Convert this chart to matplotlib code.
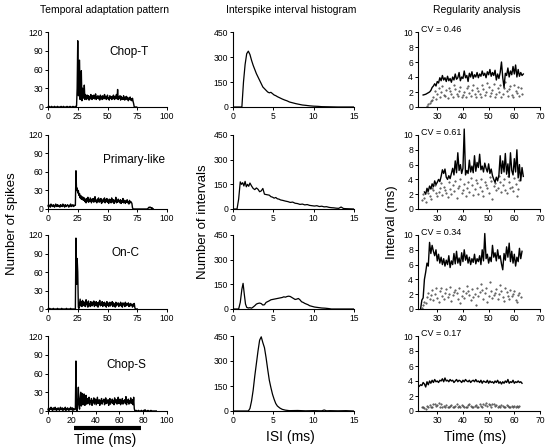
import matplotlib
matplotlib.use("Agg")
import matplotlib.pyplot as plt
import matplotlib.transforms as mtransforms
import numpy as np

plt.rcParams['font.family'] = ['Liberation Sans', 'DejaVu Sans']

W, H = 546, 447

unit_names = ['Chop-T', 'Primary-like', 'On-C', 'Chop-S']
cv_labels = ['CV = 0.46', 'CV = 0.61', 'CV = 0.34', 'CV = 0.17']

# Temporal adaptation pattern: spike counts in 0.5 ms bins, starting at 0 ms.
psth_bin = 0.5
psth_chop_t = [
    0, 0, 1, 0, 0, 0, 1, 0, 0, 0, 0, 1, 0, 0, 0, 0, 1, 0, 0, 0, 0, 0, 1, 0,
    0, 0, 1, 0, 0, 0, 0, 0, 1, 0, 0, 0, 0, 1, 0, 0, 0, 0, 1, 0, 0, 0, 1, 0,
    2, 30, 106, 18, 48, 75, 12, 40, 58, 10, 30, 22, 14, 35, 12, 20,
    16, 12, 19, 14, 18, 11, 17, 13, 20, 15, 12, 18, 14, 19, 13, 16, 21, 12, 17, 14,
    18, 13, 16, 11, 19, 14, 17, 12, 18, 15, 13, 20, 14, 17, 12, 16, 19, 13, 15, 11,
    18, 14, 16, 12, 17, 13, 19, 15, 12, 17, 14, 20, 13, 28, 12, 16, 14, 18, 11, 17,
    13, 15, 12, 18, 14, 11, 16, 13, 17, 12, 15, 10, 14, 12, 16, 11, 13, 10, 14, 9,
    5, 0, 0, 0, 0, 0]
psth_primary = [
    5, 7, 4, 6, 3, 8, 5, 6, 4, 7, 5, 3, 6, 8, 4, 5, 7, 4, 6, 5, 3, 7, 5, 6,
    4, 8, 5, 6, 3, 7, 5, 4, 6, 7, 5, 3, 6, 5, 8, 4, 6, 5, 7, 4, 5, 6,
    6, 62, 30, 34, 26, 30, 22, 25, 18, 22, 16, 20, 15, 19, 14,
    18, 12, 16, 10, 17, 13, 19, 11, 15, 12, 18, 14, 10, 16, 13, 17, 11, 15, 20, 12,
    14, 10, 16, 13, 18, 11, 15, 12, 17, 9, 14, 11, 16, 13, 18, 10, 15, 12, 17, 11,
    14, 9, 16, 12, 15, 10, 18, 13, 11, 15, 9, 14, 12, 19, 10, 13, 11, 16, 12, 14,
    10, 15, 9, 13, 11, 17, 10, 12, 14, 9, 13, 11, 15, 10, 12, 8, 14, 10, 12, 11, 9,
    2, 0, 0, 0, 0, 0, 0, 0, 0, 0, 0, 0, 0, 0, 0, 0, 0, 0, 0, 0, 0, 0, 0, 0, 0, 0,
    1, 2, 3, 2, 3, 2, 1, 2, 0, 0]
psth_on_c = [
    0, 0, 0, 1, 0, 0, 0, 0, 0, 1, 0, 0, 0, 0, 0, 0, 1, 0, 0, 0, 0, 0, 0, 1,
    0, 0, 0, 0, 0, 0, 0, 1, 0, 0, 0, 0, 0, 0, 1, 0, 0, 0, 0, 0, 0, 0,
    0, 115, 40, 82, 60, 3, 1, 8, 16, 5, 12, 4, 14, 6,
    12, 5, 10, 4, 15, 7, 11, 3, 13, 6, 9, 4, 12, 8, 5, 11, 7, 13, 4, 9,
    6, 12, 5, 10, 3, 11, 8, 14, 5, 9, 6, 12, 4, 10, 7, 11, 5, 9, 3, 12,
    6, 10, 4, 8, 11, 5, 9, 7, 12, 4, 10, 6, 8, 3, 11, 5, 9, 7, 10, 4,
    8, 6, 11, 5, 9, 3, 10, 7, 8, 4, 11, 5, 9, 6, 7, 10, 4, 8, 5, 9, 6, 7, 3, 8, 5, 9,
    2, 0, 0, 0, 0]
psth_chop_s = [
    2, 5, 1, 4, 3, 6, 2, 4, 1, 5, 3, 2, 6, 3, 1, 4, 2, 5, 3, 1, 4, 6, 2, 3,
    5, 1, 4, 2, 3, 6, 1, 4, 2, 5, 3, 1, 4, 2, 6, 3, 2, 5, 1, 4, 3, 2,
    3, 80, 5, 0, 15, 38, 10, 3, 20, 30, 8, 12, 28, 10, 14, 27, 9, 18, 25, 11, 20,
    12, 18, 22, 10, 16, 14, 20, 9, 17, 13, 21, 11, 15, 19, 10, 16, 22, 12, 14, 18,
    9, 17, 13, 20, 11, 16, 15, 19, 10, 14, 21, 12, 17, 13, 18, 9, 16, 20, 11, 15,
    14, 19, 12, 17, 10, 21, 13, 16, 18, 11, 15, 22, 12, 14, 19, 10, 17, 13, 20, 11,
    16, 15, 18, 12, 23, 10, 17, 14, 19, 11, 16, 13, 21, 12, 15, 18, 10, 22,
    4, 0, 0, 1, 0, 0, 0, 1, 0, 0, 0, 0, 1, 0, 0, 0, 1, 0, 2, 1, 0, 0, 0, 1,
    0, 0, 0, 0, 1, 0, 0, 0, 0, 0, 0, 0, 0, 0]
psth_counts = [psth_chop_t, psth_primary, psth_on_c, psth_chop_s]
psth_xticks = [[0, 25, 50, 75, 100]] * 3 + [[0, 20, 40, 60, 80, 100]]
label_pos = [(68, 88), (72, 79), (65, 91), (66, 74)]
stim_on, stim_off = 22, 78

# Interspike interval histograms (ISI in ms, number of intervals).
isi_x_chop_t = [0, 1.1, 1.3, 1.5, 1.7, 1.9, 2.1, 2.3, 2.5, 2.7, 2.9, 3.1, 3.3, 3.5,
                3.7, 3.9, 4.1, 4.3, 4.5, 4.7, 4.9, 5.1, 5.3, 5.5, 5.8, 6.1, 6.4, 6.7,
                7.0, 7.4, 7.8, 8.2, 8.6, 9.0, 9.5, 10.0, 10.5, 11, 12, 13, 15]
isi_y_chop_t = [0, 0, 150, 255, 320, 335, 315, 280, 250, 225, 200, 180, 160, 140,
                120, 110, 100, 90, 85, 88, 80, 72, 68, 62, 55, 48, 42, 37,
                30, 25, 20, 16, 12, 10, 7, 5, 4, 2, 1, 0, 0]
isi_x_primary = [0, 0.5, 0.7, 0.9, 1.05, 1.2, 1.35, 1.5, 1.65, 1.8, 1.95, 2.1, 2.3,
                 2.5, 2.7, 2.9, 3.1, 3.3, 3.5, 3.7, 3.9, 4.1, 4.3, 4.5, 4.7, 4.9,
                 5.1, 5.3, 5.5, 5.7, 5.9, 6.2, 6.5, 6.8, 7.1, 7.4, 7.7, 8.0, 8.3,
                 8.6, 8.9, 9.2, 9.5, 9.8, 10.1, 10.4, 10.7, 11.0, 11.3, 11.6, 11.9,
                 12.2, 12.5, 12.8, 13.1, 13.4, 13.7, 14.0, 15]
isi_y_primary = [0, 0, 60, 165, 150, 160, 140, 168, 135, 150, 138, 158, 140,
                 125, 118, 128, 120, 105, 110, 125, 90, 88, 86, 84, 75, 72,
                 66, 70, 62, 60, 55, 52, 48, 45, 40, 42, 35, 33, 28,
                 30, 25, 27, 22, 20, 18, 20, 15, 17, 13, 14, 10,
                 8, 7, 5, 4, 12, 3, 2, 0]
isi_x_on_c = [0, 0.7, 0.9, 1.1, 1.25, 1.4, 1.55, 1.7, 1.9, 2.1, 2.3, 2.5, 2.7, 2.9,
              3.1, 3.3, 3.5, 3.7, 3.9, 4.1, 4.3, 4.5, 4.7, 4.9, 5.1, 5.3, 5.5, 5.7,
              5.9, 6.1, 6.3, 6.5, 6.7, 6.9, 7.1, 7.3, 7.5, 7.7, 7.9, 8.1, 8.3, 8.5,
              8.7, 8.9, 9.1, 9.3, 9.5, 9.8, 10.1, 10.4, 10.7, 11.0, 11.4, 11.8, 12.2, 15]
isi_y_on_c = [0, 0, 40, 120, 156, 90, 30, 10, 6, 8, 5, 12, 20, 30,
              34, 36, 33, 24, 26, 40, 45, 50, 56, 58, 60, 62, 64, 66,
              68, 70, 74, 72, 76, 78, 76, 70, 64, 58, 60, 64, 56, 44,
              40, 34, 30, 26, 20, 16, 12, 10, 8, 6, 5, 3, 0, 0]
isi_x_chop_s = [0, 1.9, 2.1, 2.3, 2.5, 2.7, 2.9, 3.1, 3.3, 3.5, 3.7, 3.9, 4.1, 4.3,
                4.5, 4.7, 4.9, 5.1, 5.3, 5.5, 5.8, 6.1, 6.5, 7, 8, 9, 10, 11, 11.3,
                11.6, 12, 13, 14, 15]
isi_y_chop_s = [0, 0, 15, 60, 125, 210, 285, 360, 425, 445, 410, 380, 320, 250,
                185, 140, 100, 70, 45, 30, 18, 10, 5, 2, 3, 1, 2, 1, 6,
                1, 2, 1, 2, 0]
isi_x = [isi_x_chop_t, isi_x_primary, isi_x_on_c, isi_x_chop_s]
isi_y = [isi_y_chop_t, isi_y_primary, isi_y_on_c, isi_y_chop_s]

# Regularity analysis: mean interval (line) and SD (dots), 0.5 ms steps.
reg_step = 0.5
mean_start = [24.5, 25.0, 23.5, 23.0]
sd_start = [26.0, 24.0, 24.0, 24.0]
mean_chop_t = [
    1.6, 1.65, 1.7, 1.8, 1.9, 2.0, 2.2, 2.6, 2.8, 3.1, 2.8, 3.4, 3.2, 3.9, 3.5, 4.2,
    3.6, 3.9, 3.4, 4.1, 3.5, 3.8, 3.3, 4.0, 3.6, 4.4, 3.7, 3.9, 4.6, 3.5, 4.0, 3.8,
    4.8, 3.9, 4.2, 3.4, 4.5, 4.0, 4.7, 3.8, 4.3, 4.0, 4.6, 3.9, 4.4, 4.1, 4.8, 4.2,
    4.5, 3.9, 4.7, 4.3, 5.0, 4.1, 4.6, 4.2, 4.9, 3.6, 4.4, 3.8, 4.6, 6.0, 3.9, 2.6,
    4.5, 4.2, 5.2, 4.0, 4.8, 4.3, 5.4, 4.4, 5.6, 4.0, 5.0, 4.1, 4.6, 4.2, 4.4]
mean_primary = [
    2.3, 2.0, 2.8, 2.4, 3.1, 2.7, 3.4, 3.0, 3.8, 3.3,
    3.6, 4.0, 3.7, 4.4, 5.3, 4.8, 5.4, 4.3, 4.0, 4.5,
    4.1, 4.8, 5.5, 4.6, 6.5, 4.9, 7.6, 5.2, 6.0, 4.8,
    5.5, 10.8, 4.6, 5.2, 4.8, 6.6, 5.0, 5.8, 4.9, 7.2,
    5.1, 6.3, 5.6, 7.4, 5.3, 5.8, 5.0, 6.2, 5.5, 5.0,
    6.1, 4.8, 5.4, 4.5, 4.0, 3.6, 4.3, 3.8, 4.6, 7.2,
    4.8, 6.5, 5.0, 7.5, 4.7, 6.1, 4.3, 7.6, 5.2, 4.6,
    6.8, 5.0, 8.0, 4.2, 6.0, 3.8, 5.6, 4.4]
mean_on_c = [
    0, 1.2, 1.5, 4.0, 5.0, 6.2, 5.8, 9.0, 7.5, 8.6, 7.8, 7.2, 8.0, 6.5, 7.4, 6.2,
    7.0, 6.0, 6.8, 5.8, 6.6, 6.0, 7.2, 5.6, 6.5, 6.0, 7.5, 6.1, 7.8, 6.2, 6.9, 5.9,
    7.6, 6.4, 8.0, 6.6, 7.3, 6.2, 7.0, 6.0, 6.8, 6.3, 7.4, 6.1, 6.8, 6.4, 7.2, 6.0,
    8.0, 6.5, 10.2, 6.8, 7.4, 6.2, 7.0, 6.4, 8.6, 7.0, 7.6, 6.5, 8.0, 6.8, 7.2, 6.1,
    5.3, 7.5, 6.6, 8.4, 7.0, 8.9, 6.4, 7.8, 6.2, 7.4, 5.8, 7.0, 6.4, 8.2, 6.8, 7.8]
mean_chop_s = [
    3.3, 3.5, 3.4, 3.8, 3.6, 3.2, 3.9, 3.5, 4.0, 3.7, 4.1, 3.8, 4.2, 3.9, 4.0, 3.8,
    4.1, 4.0, 4.3, 3.9, 4.4, 4.0, 4.1, 3.9, 4.2, 4.0, 4.1, 3.8, 4.0, 4.2, 3.9, 4.1,
    4.0, 3.8, 4.1, 3.9, 4.2, 4.0, 3.9, 4.1, 3.8, 4.0, 4.1, 3.9, 4.2, 3.9, 4.0, 3.8,
    4.1, 3.7, 4.0, 3.9, 3.8, 4.1, 3.7, 4.0, 3.8, 3.9, 3.7, 4.0, 3.8, 4.1, 3.7, 3.9,
    3.6, 3.9, 3.7, 4.0, 3.8, 4.2, 3.7, 3.9, 3.8, 4.1, 3.7, 3.9, 3.8, 4.0, 3.8, 3.9, 3.7]
sd_chop_t = [
    0.2, 0.4, 0.6, 0.8, 1.0, 1.3, 2.2, 1.1, 1.7, 2.5,
    1.4, 2.0, 2.8, 1.6, 1.5, 2.3, 1.2, 2.6, 2.1, 1.7,
    1.3, 2.9, 2.4, 1.8, 1.5, 2.2, 2.7, 1.4, 1.6, 2.0,
    1.3, 2.5, 2.8, 1.9, 1.5, 2.3, 3.0, 1.7, 1.4, 2.6,
    2.2, 1.8, 1.3, 2.9, 2.4, 1.6, 2.0, 3.2, 2.7, 1.5,
    1.9, 2.3, 3.1, 1.4, 1.7, 2.5, 2.0, 2.9, 1.3, 1.8,
    2.6, 3.3, 2.1, 1.5, 2.4, 2.8, 1.6, 1.4, 3.0, 2.2,
    1.9, 2.7, 1.5, 2.5, 1.8]
sd_primary = [
    1.2, 2.0, 1.5, 1.0, 2.4, 2.2, 1.8, 1.4, 2.9, 2.6,
    3.2, 2.1, 1.7, 2.3, 2.8, 3.5, 1.9, 3.0, 2.5, 2.2,
    1.6, 3.6, 2.7, 2.0, 3.3, 2.4, 3.8, 1.5, 2.8, 3.1,
    4.0, 2.1, 2.6, 3.4, 1.8, 2.9, 3.7, 2.3, 4.2, 3.2,
    1.9, 2.7, 3.9, 3.5, 2.0, 3.0, 4.1, 2.4, 1.7, 3.6,
    3.3, 2.8, 2.2, 4.3, 3.8, 1.4, 3.1, 3.5, 2.6, 2.9,
    4.5, 3.7, 2.3, 3.2, 4.0, 2.5, 2.1, 4.4, 3.6, 2.8,
    3.0, 2.4, 4.2, 3.4, 1.8, 2.7, 3.9]
sd_on_c = [
    0.2, 0.5, 1.0, 0.8, 1.6, 2.2, 1.4, 1.9, 2.6, 1.2,
    2.0, 2.8, 1.5, 0.9, 2.4, 2.9, 1.8, 1.3, 2.2, 2.7,
    1.6, 2.0, 3.0, 1.1, 1.9, 2.3, 2.6, 2.1, 1.4, 2.8,
    0.8, 1.7, 2.5, 1.5, 2.2, 3.1, 2.4, 1.9, 1.2, 2.7,
    1.6, 2.0, 0.6, 2.9, 1.8, 2.3, 3.4, 2.6, 1.4, 2.1,
    2.8, 1.0, 1.7, 3.6, 2.4, 1.5, 1.9, 2.2, 2.7, 1.3,
    2.0, 3.2, 2.5, 1.6, 1.1, 2.9, 2.3, 1.8, 1.4, 2.6,
    1.7, 2.0, 2.4, 1.2, 1.0, 1.9, 2.2, 1.6]
sd_chop_s = [
    0.5, 0.6, 0.4, 0.3, 0.7, 0.5, 0.8, 0.6, 0.5, 0.9,
    1.0, 0.7, 0.8, 1.1, 0.6, 0.9, 0.5, 0.7, 0.6, 0.8,
    0.6, 0.5, 0.7, 0.8, 0.6, 0.5, 0.7, 0.9, 0.6, 0.7,
    0.5, 0.8, 0.7, 0.6, 0.5, 0.6, 0.8, 0.9, 0.7, 0.6,
    0.5, 0.7, 0.8, 0.6, 0.5, 0.9, 0.7, 0.6, 1.0, 0.8,
    1.1, 0.7, 0.9, 0.8, 0.6, 1.0, 0.9, 0.7, 0.8, 0.6,
    0.7, 0.6, 0.8, 0.7, 0.5, 0.6, 0.8, 0.7, 0.6, 0.5,
    0.7, 0.6, 0.7, 0.6, 0.7, 0.6, 0.7]
mean_interval = [mean_chop_t, mean_primary, mean_on_c, mean_chop_s]
sd_interval = [sd_chop_t, sd_primary, sd_on_c, sd_chop_s]


def px_axes(fig, x0, y0, x1, y1):
    # Axes from pixel corners (top-left origin).
    return fig.add_axes([x0 / W, 1 - y1 / H, (x1 - x0) / W, (y1 - y0) / H])


def style_ax(ax):
    ax.spines['top'].set_visible(False)
    ax.spines['right'].set_visible(False)
    for s in ('left', 'bottom'):
        ax.spines[s].set_linewidth(0.8)
    ax.tick_params(labelsize=6.2, length=2.5, width=0.7, pad=1)


def ftext(fig, px, py, s, **kw):
    fig.text(px / W, 1 - py / H, s, ha='center', va='center', **kw)


fig = plt.figure(figsize=(W / 100, H / 100), dpi=100)

row_px = [(32, 107), (135, 209), (235, 309), (336, 411)]

for i, (top, bot) in enumerate(row_px):
    # Column 1: PSTH
    ax = px_axes(fig, 48, top, 167, bot)
    counts = np.array(psth_counts[i])
    t = np.arange(len(counts)) * psth_bin
    ax.plot(t, counts, color='k', lw=1.0, clip_on=False)
    ax.set_xlim(0, 100)
    ax.set_ylim(0, 120)
    ax.set_xticks(psth_xticks[i])
    ax.set_yticks([0, 30, 60, 90, 120])
    ax.text(*label_pos[i], unit_names[i], fontsize=8.5, ha='center', va='center')
    style_ax(ax)
    if i == 3:
        # stimulus bar under the time axis
        trans = mtransforms.blended_transform_factory(ax.transData, ax.transAxes)
        ax.plot([stim_on, stim_off], [-0.23, -0.23], color='k', lw=3,
                solid_capstyle='butt', transform=trans, clip_on=False)

    # Column 2: ISI histogram
    ax = px_axes(fig, 233, top, 354, bot)
    ax.plot(isi_x[i], isi_y[i], color='k', lw=0.9)
    ax.set_xlim(0, 15)
    ax.set_ylim(0, 450)
    ax.set_xticks([0, 5, 10, 15])
    ax.set_yticks([0, 150, 300, 450])
    style_ax(ax)

    # Column 3: regularity analysis
    ax = px_axes(fig, 418, top, 540, bot)
    m = np.array(mean_interval[i])
    tm = mean_start[i] + np.arange(len(m)) * reg_step
    sd = np.array(sd_interval[i])
    ts = sd_start[i] + np.arange(len(sd)) * reg_step
    ax.plot(ts, sd, linestyle='none', marker='.', ms=1.0, color='0.25')
    ax.plot(tm, m, color='k', lw=1.0, clip_on=False)
    ax.set_xlim(22.5, 70)
    ax.set_ylim(0, 10)
    ax.set_xticks([30, 40, 50, 60, 70])
    ax.set_yticks([0, 2, 4, 6, 8, 10])
    ax.text(23.5, 10.4, cv_labels[i], fontsize=6.5, ha='left', va='center')
    style_ax(ax)

# Column titles
ftext(fig, 105, 10, 'Temporal adaptation pattern', fontsize=7.5)
ftext(fig, 291, 10, 'Interspike interval histogram', fontsize=7.5)
ftext(fig, 477, 10, 'Regularity analysis', fontsize=7.5)

# Axis labels
ftext(fig, 12, 224, 'Number of spikes', fontsize=9.5, rotation=90)
ftext(fig, 203, 222, 'Number of intervals', fontsize=9.5, rotation=90)
ftext(fig, 392, 222, 'Interval (ms)', fontsize=9.5, rotation=90)
ftext(fig, 105, 440, 'Time (ms)', fontsize=10)
ftext(fig, 290, 437, 'ISI (ms)', fontsize=10)
ftext(fig, 475, 437, 'Time (ms)', fontsize=10)

fig.savefig('out.png', dpi=100)
